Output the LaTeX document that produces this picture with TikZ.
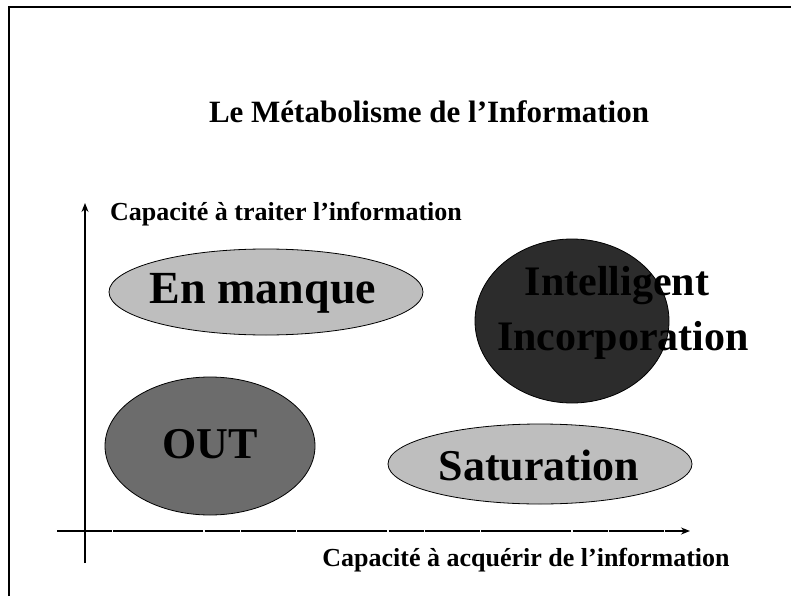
\documentclass[tikz,border=0pt]{standalone}
\usepackage{fontspec}
\setmainfont{Liberation Serif}
\usetikzlibrary{arrows.meta,shapes.geometric}
\definecolor{lightfill}{HTML}{BEBEBE}
\definecolor{midfill}{HTML}{6C6C6C}
\definecolor{darkfill}{HTML}{2C2C2C}
\begin{document}
\begin{tikzpicture}[x=1pt,y=-1pt,
  framestyle/.style={line width=1.4pt,black},
  blob/.style={draw=black,line width=0.8pt},
  biglabel/.style={font=\bfseries\fontsize{44}{48}\selectfont,inner sep=0pt,anchor=base,text=black},
  axislabel/.style={font=\bfseries\fontsize{26}{30}\selectfont,inner sep=0pt},
  axisline/.style={line width=1.2pt,-{Stealth[length=9pt,width=7pt]}}]
\useasboundingbox (0,0) rectangle (791,596);
% frame
\coordinate (fbl) at (9,596);
\coordinate (ftl) at (9,7);
\coordinate (ftr) at (791,7);
\draw[framestyle] (fbl) -- (ftl) -- (ftr);
% title
\node[font=\bfseries\fontsize{31}{36}\selectfont,inner sep=0pt,anchor=base] (title) at (429,123) {Le Métabolisme de l’Information};
% blobs
\node[blob,ellipse,fill=lightfill,minimum width=314pt,minimum height=86pt,inner sep=0pt] (manque) at (266,292) {};
\node[blob,ellipse,fill=darkfill,minimum width=194pt,minimum height=164pt,inner sep=0pt] (intel) at (572,321) {};
\node[blob,ellipse,fill=midfill,minimum width=210pt,minimum height=138pt,inner sep=0pt] (out) at (210,446) {};
\node[blob,ellipse,fill=lightfill,minimum width=304pt,minimum height=80pt,inner sep=0pt] (satur) at (540,464) {};
% labels
\node[biglabel,font=\bfseries\fontsize{46}{50}\selectfont] (manquetxt) at (263,303) {En manque};
\node[biglabel] (outtxt) at (210,458) {OUT};
\node[biglabel] (saturtxt) at (539,480) {Saturation};
\node[biglabel,font=\bfseries\fontsize{42}{46}\selectfont] (inteltxt) at (617,295) {Intelligent};
\node[biglabel,font=\bfseries\fontsize{42}{46}\selectfont] (incotxt) at (623,350) {Incorporation};
% axes
\coordinate (ybot) at (85,563);
\coordinate (ytop) at (85,203);
\coordinate (xleft) at (57,531);
\coordinate (xright) at (690,531);
\draw[axisline] (ybot) -- (ytop);
\draw[axisline,line width=1.5pt,dash pattern=on 55pt off 1.2pt on 90pt off 1.5pt on 35pt off 1.2pt] (xleft) -- (xright);
\node[axislabel,anchor=base west] (ylab) at (110,220) {Capacité à traiter l’information};
\node[axislabel,anchor=base] (xlab) at (526,566) {Capacité à acquérir de l’information};
\end{tikzpicture}
\end{document}
